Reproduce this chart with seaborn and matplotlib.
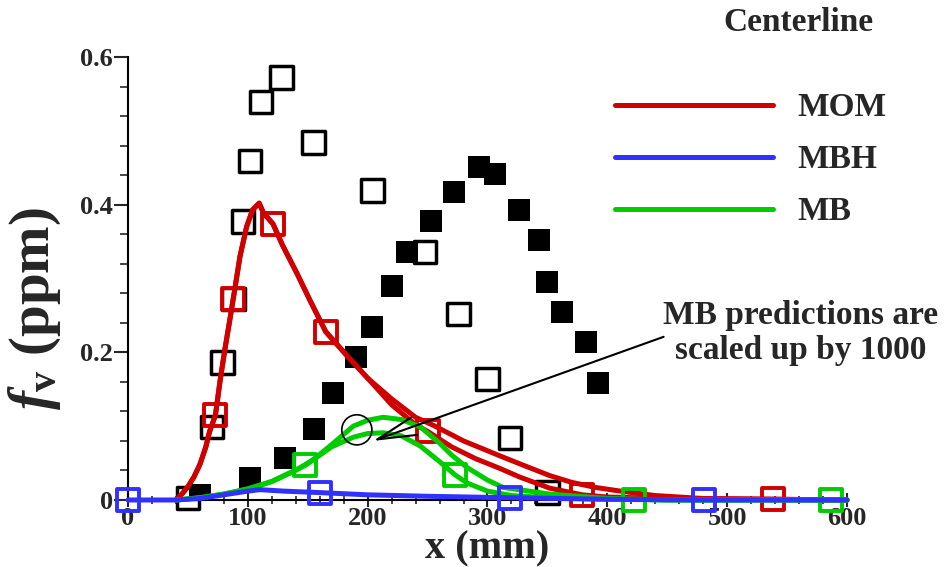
import numpy as np
import pandas as pd
import seaborn as sns
import matplotlib.pyplot as plt
from matplotlib.ticker import MultipleLocator

# measured soot volume fraction (ppm) along centerline
exp_open_x = [50, 70, 79, 88, 96, 102, 111, 128, 155, 204, 248, 276, 300, 319, 350]
exp_open_y = [0.003, 0.099, 0.186, 0.272, 0.377, 0.459, 0.539, 0.572, 0.484,
              0.419, 0.336, 0.252, 0.164, 0.084, 0.010]
exp_fill_x = [60, 102, 131, 155, 171, 190, 204, 220, 233, 253, 272, 293, 306,
              326, 343, 350, 362, 382, 392]
exp_fill_y = [0.007, 0.030, 0.057, 0.096, 0.145, 0.194, 0.234, 0.290, 0.336,
              0.378, 0.417, 0.451, 0.441, 0.393, 0.352, 0.295, 0.255, 0.214, 0.158]

# MOM model, two variants (a: plain line, b: line with symbols)
mom_a_x = [40, 45, 50, 55, 60, 65, 68, 73, 77, 81, 85, 89, 93.5, 99, 104, 109.5,
           113, 121, 129, 141, 152, 165, 183, 200, 220, 240, 255, 280, 310,
           330, 352, 370, 390, 411, 440, 480, 540, 600]
mom_a_y = [0.0, 0.008, 0.018, 0.031, 0.048, 0.072, 0.092, 0.115, 0.163, 0.205,
           0.244, 0.284, 0.330, 0.370, 0.393, 0.402, 0.389, 0.374, 0.345,
           0.307, 0.270, 0.228, 0.195, 0.165, 0.137, 0.112, 0.101, 0.080,
           0.060, 0.047, 0.033, 0.024, 0.017, 0.012, 0.006, 0.002, 0.001, 0.0]
mom_b_x = [40, 45, 50, 55, 60, 65, 68, 73, 77, 81, 85, 89, 93.5, 99, 104, 109.5,
           113, 121, 129, 141, 152, 165, 183, 200, 220, 240, 250, 270, 290,
           310, 327, 352, 379, 400, 450, 540, 600]
mom_b_y = [0.0, 0.008, 0.018, 0.031, 0.048, 0.072, 0.092, 0.115, 0.163, 0.205,
           0.244, 0.284, 0.330, 0.370, 0.393, 0.402, 0.389, 0.374, 0.345,
           0.307, 0.270, 0.228, 0.195, 0.165, 0.129, 0.102, 0.093, 0.072,
           0.056, 0.043, 0.031, 0.016, 0.007, 0.004, 0.002, 0.001, 0.0]
mom_sym_x = [73, 88, 121, 165, 250, 379, 538]
mom_sym_y = [0.115, 0.272, 0.374, 0.228, 0.093, 0.007, 0.001]

# MB model (x1000)
mb_a_x = [40, 60, 80, 100, 120, 140, 155, 170, 188, 200, 213, 228, 244, 260,
          270, 283, 300, 313, 352, 400, 450, 600]
mb_a_y = [0.0, 0.003, 0.008, 0.015, 0.025, 0.040, 0.055, 0.075, 0.100, 0.108,
          0.112, 0.109, 0.099, 0.077, 0.061, 0.044, 0.027, 0.017, 0.008,
          0.002, 0.0, 0.0]
mb_b_x = [40, 60, 80, 100, 120, 148, 170, 188, 200, 213, 228, 244, 260, 273,
          283, 300, 320, 352, 400, 450, 600]
mb_b_y = [0.0, 0.003, 0.008, 0.015, 0.025, 0.047, 0.072, 0.085, 0.090, 0.091,
          0.087, 0.073, 0.052, 0.034, 0.023, 0.012, 0.006, 0.003, 0.001, 0.0,
          0.0]
mb_sym_x = [148, 273, 422, 587]
mb_sym_y = [0.047, 0.034, 0.0, 0.0]

# MBH model
mbh_x = [0, 40, 60, 80, 100, 110, 130, 160, 200, 250, 320, 400, 480, 600]
mbh_y = [0.0, 0.0, 0.002, 0.007, 0.012, 0.014, 0.012, 0.010, 0.007, 0.005,
         0.003, 0.001, 0.0, 0.0]
mbh_sym_x = [0, 160, 319, 481]
mbh_sym_y = [0.0, 0.010, 0.003, 0.0]

circle_x, circle_y = 191, 0.095
arrow_tip = (204.5, 0.080)
arrow_tail = (447, 0.221)

RED = '#D00000'
BLUE = '#3030FF'
GREEN = '#00CC00'

sns.set_style("white")
plt.rcParams['font.family'] = ['Liberation Serif', 'DejaVu Serif']
plt.rcParams['font.weight'] = 'bold'
plt.rcParams['axes.labelweight'] = 'bold'
plt.rcParams['mathtext.fontset'] = 'custom'
plt.rcParams['mathtext.it'] = 'Liberation Serif:italic:bold'
plt.rcParams['mathtext.rm'] = 'Liberation Serif:bold'
plt.rcParams['mathtext.bf'] = 'Liberation Serif:bold'

fig = plt.figure(figsize=(9.45, 5.67), dpi=100)
ax = fig.add_axes([0.1354, 0.1182, 0.7609, 0.7813])

# experimental data
sns.scatterplot(x=exp_open_x, y=exp_open_y, marker='s', s=262,
                facecolor='none', edgecolor='black', linewidth=2.5,
                clip_on=False, ax=ax, zorder=2)
sns.scatterplot(x=exp_fill_x, y=exp_fill_y, marker='s', s=270,
                color='black', linewidth=0, ax=ax, zorder=2)


def curve(x, y, color, sym_x=None, sym_y=None):
    df = pd.DataFrame({'x': x, 'y': y})
    sns.lineplot(data=df, x='x', y='y', color=color, linewidth=3.6,
                 errorbar=None, ax=ax, zorder=3, clip_on=False)
    line = ax.lines[-1]
    if sym_x is not None:
        sns.scatterplot(x=sym_x, y=sym_y, marker='s', s=250,
                        facecolor='none', edgecolor=color, linewidth=2.8,
                        clip_on=False, ax=ax, zorder=3)
    return line


h_mom = curve(mom_a_x, mom_a_y, RED)
curve(mom_b_x, mom_b_y, RED, mom_sym_x, mom_sym_y)
h_mb = curve(mb_a_x, mb_a_y, GREEN)
curve(mb_b_x, mb_b_y, GREEN, mb_sym_x, mb_sym_y)
h_mbh = curve(mbh_x, mbh_y, BLUE, mbh_sym_x, mbh_sym_y)

# annotation
sns.scatterplot(x=[circle_x], y=[circle_y], marker='o', s=470,
                facecolor='none', edgecolor='black', linewidth=1.2, ax=ax,
                zorder=4)
ax.annotate('', xy=arrow_tip, xytext=arrow_tail,
            arrowprops=dict(arrowstyle='->,head_length=1.4,head_width=0.33',
                            mutation_scale=20, color='black', lw=1.5,
                            shrinkA=0, shrinkB=0), zorder=4)
ax.text(561, 0.226, 'MB predictions are\nscaled up by 1000', ha='center',
        va='center', fontsize=24, linespacing=1.15)
fig.text(0.845, 0.961, 'Centerline', ha='center', va='center', fontsize=24)

ax.legend([h_mom, h_mbh, h_mb], ['MOM', 'MBH', 'MB'], loc='upper left',
          bbox_to_anchor=(0.651, 0.837), bbox_transform=fig.transFigure,
          frameon=False, fontsize=24, handlelength=4.74, handletextpad=0.72,
          labelspacing=0.63, borderpad=0, borderaxespad=0)

ax.set_xlim(0, 600)
ax.set_ylim(0, 0.6)
ax.set_xticks(range(0, 601, 100))
ax.set_yticks([0, 0.2, 0.4, 0.6])
ax.set_yticklabels(['0', '0.2', '0.4', '0.6'])
ax.xaxis.set_minor_locator(MultipleLocator(20))
ax.yaxis.set_minor_locator(MultipleLocator(0.04))
ax.tick_params(axis='y', which='major', direction='out', length=10, width=1.5,
               labelsize=19, pad=1, left=True)
ax.tick_params(axis='y', which='minor', direction='out', length=6, width=1.2,
               left=True)
ax.tick_params(axis='x', which='major', direction='inout', length=10,
               width=1.5, labelsize=19, pad=0, bottom=True)
ax.tick_params(axis='x', which='minor', direction='inout', length=6,
               width=1.2, bottom=True)
for side in ['top', 'right']:
    ax.spines[side].set_visible(False)
for side in ['left', 'bottom']:
    ax.spines[side].set_linewidth(1.5)
    ax.spines[side].set_color('black')

ax.set_xlabel('x (mm)', fontsize=29)
ax.xaxis.set_label_coords(0.5, -0.068)
ax.set_ylabel(r'$f_{\mathrm{v}}$ (ppm)', fontsize=41)
ax.yaxis.set_label_coords(-0.09, 0.433)

plt.savefig('out.png', format='png', dpi=100)
